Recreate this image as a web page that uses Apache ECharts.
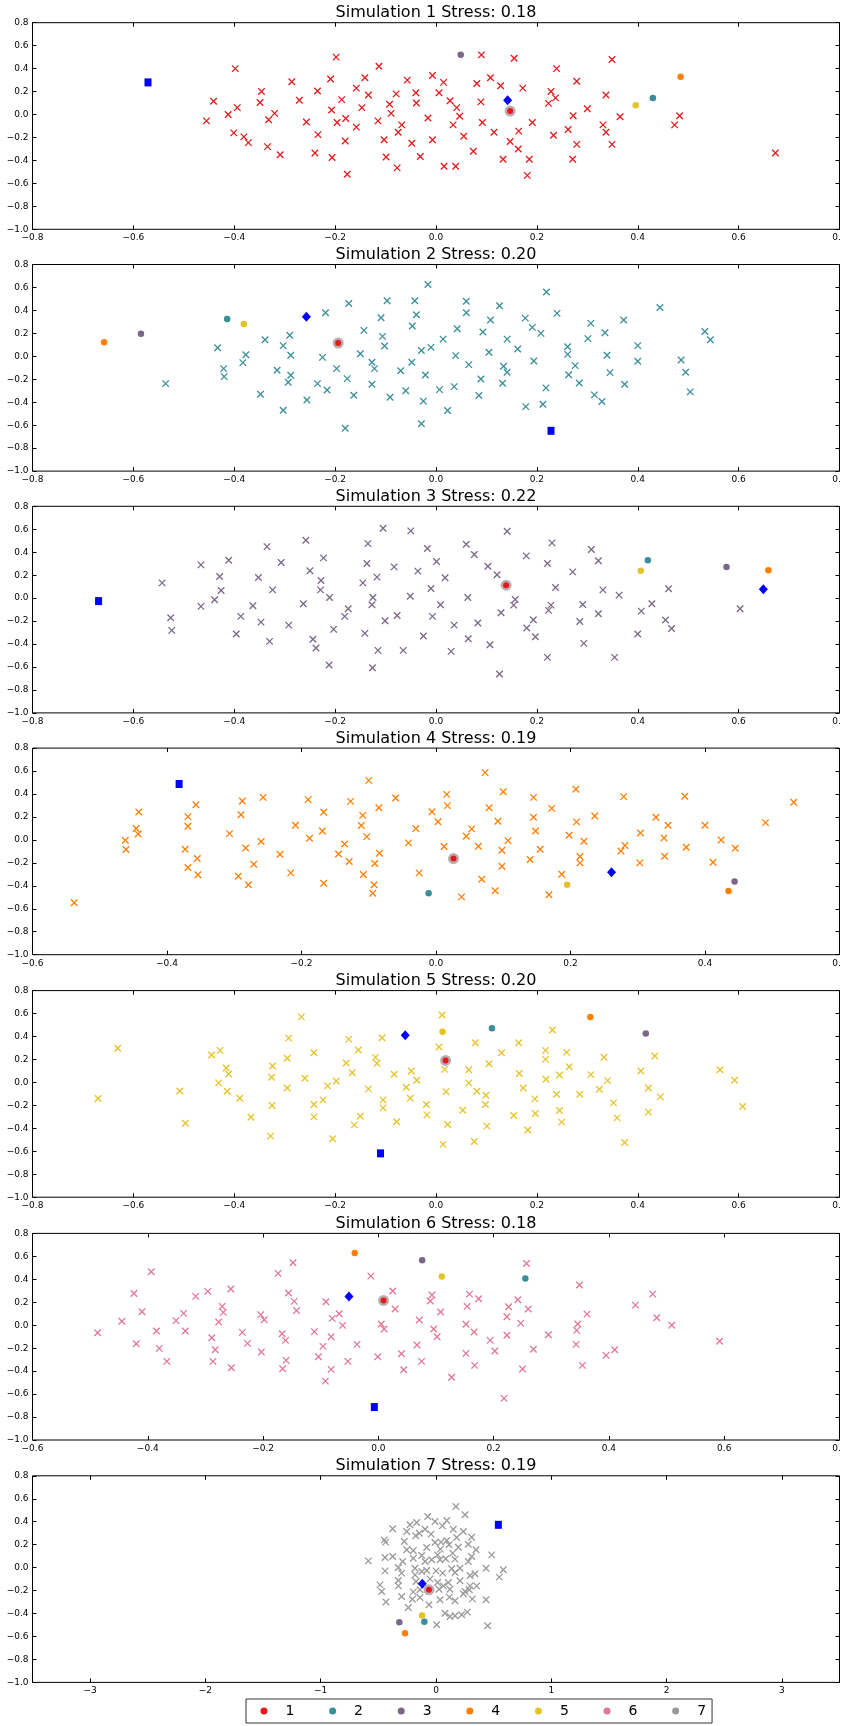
<!DOCTYPE html>
<html><head><meta charset="utf-8">
<script src="https://cdn.jsdelivr.net/npm/echarts@6/dist/echarts.min.js"></script>
<style>html,body{margin:0;padding:0;background:#fff}#c{width:841px;height:1726px}</style>
</head><body><div id="c"></div>
<script>
const simNames = ['1','2','3','4','5','6','7'];
const simColors = ['#e41a1c','#3a8e99','#7b6888','#ff7f00','#e6c229','#e07795','#999999'];
const stress = ['0.18','0.20','0.22','0.19','0.20','0.18','0.19'];
const xMins = [-0.8,-0.8,-0.8,-0.6,-0.8,-0.6,-3.5];
const xMaxs = [0.8,0.8,0.8,0.6,0.8,0.8,3.5];
const sim7XTicks = [-3,-2,-1,0,1,2,3];
const yMin = -1.0, yMax = 0.8, yStep = 0.2;

const sim1 = [[-0.198,0.50],[-0.113,0.42],[-0.398,0.40],[-0.286,0.285],[-0.209,0.31],[-0.141,0.32],[-0.057,0.30],[-0.007,0.34],[0.015,0.28],[0.081,0.27],[0.108,0.32],[0.128,0.25],[0.172,0.23],[0.090,0.52],[0.155,0.49],[0.239,0.40],[0.279,0.29],[0.349,0.48],[0.228,0.20],[0.237,0.145],[0.223,0.097],[0.337,0.17],[0.300,0.05],[0.272,-0.01],[0.365,-0.02],[0.483,-0.01],[0.473,-0.09],[0.331,-0.09],[0.337,-0.155],[0.262,-0.13],[0.233,-0.18],[0.279,-0.26],[0.349,-0.26],[0.271,-0.39],[0.673,-0.335],[0.191,-0.07],[0.164,-0.145],[0.147,-0.235],[0.163,-0.30],[0.185,-0.39],[0.181,-0.53],[0.133,-0.39],[0.115,-0.155],[0.092,-0.07],[0.089,0.11],[0.074,-0.32],[0.055,-0.19],[0.047,-0.015],[0.041,0.06],[0.028,0.12],[0.034,-0.09],[0.039,-0.45],[0.016,-0.45],[0.006,0.19],[-0.016,-0.03],[-0.007,-0.22],[-0.031,-0.365],[-0.048,-0.25],[-0.039,0.10],[-0.040,0.19],[-0.079,0.18],[-0.092,0.09],[-0.089,0.01],[-0.068,-0.09],[-0.075,-0.155],[-0.077,-0.465],[-0.099,-0.37],[-0.103,-0.22],[-0.115,-0.055],[-0.134,0.17],[-0.147,0.06],[-0.158,0.23],[-0.158,-0.11],[-0.187,0.13],[-0.179,-0.035],[-0.196,-0.07],[-0.207,0.04],[-0.180,-0.23],[-0.206,-0.375],[-0.176,-0.52],[-0.235,0.205],[-0.271,0.125],[-0.257,-0.065],[-0.234,-0.175],[-0.240,-0.335],[-0.309,-0.35],[-0.334,-0.28],[-0.320,0.01],[-0.332,-0.045],[-0.346,0.20],[-0.349,0.105],[-0.394,0.06],[-0.412,0.0],[-0.441,0.115],[-0.455,-0.055],[-0.401,-0.16],[-0.381,-0.195],[-0.372,-0.245]];

const sim2 = [[-0.016,0.626],[0.219,0.56],[0.444,0.426],[0.240,0.374],[0.126,0.44],[0.060,0.48],[0.060,0.38],[-0.042,0.484],[-0.039,0.362],[-0.097,0.484],[-0.109,0.336],[-0.173,0.46],[-0.219,0.38],[-0.047,0.264],[0.042,0.24],[0.108,0.316],[0.177,0.333],[0.191,0.252],[0.208,0.20],[0.093,0.212],[0.141,0.15],[0.014,0.15],[-0.010,0.078],[-0.029,0.05],[-0.102,0.09],[-0.106,0.174],[-0.143,0.226],[-0.150,0.023],[-0.127,-0.052],[-0.122,-0.107],[-0.048,-0.052],[-0.070,-0.125],[-0.021,-0.162],[-0.197,-0.107],[-0.176,-0.194],[-0.225,-0.009],[-0.235,-0.238],[-0.216,-0.293],[-0.163,-0.339],[-0.127,-0.243],[-0.091,-0.357],[-0.060,-0.30],[-0.025,-0.39],[0.007,-0.29],[0.036,-0.264],[0.023,-0.472],[-0.029,-0.588],[-0.180,-0.626],[0.085,-0.342],[0.089,-0.197],[0.132,-0.235],[0.134,-0.087],[0.141,-0.139],[0.065,-0.072],[0.039,0.006],[0.105,0.035],[0.162,0.064],[0.194,-0.041],[0.218,-0.275],[0.212,-0.417],[0.178,-0.438],[0.261,0.084],[0.261,0.017],[0.276,-0.081],[0.263,-0.16],[0.284,-0.232],[0.314,-0.336],[0.329,-0.394],[0.301,0.154],[0.307,0.287],[0.335,0.206],[0.339,0.009],[0.345,-0.142],[0.374,-0.243],[0.372,0.316],[0.400,0.093],[0.400,-0.043],[0.486,-0.032],[0.495,-0.139],[0.504,-0.31],[0.533,0.217],[0.544,0.145],[-0.288,0.009],[-0.290,0.183],[-0.303,0.093],[-0.288,-0.165],[-0.293,-0.226],[-0.315,-0.122],[-0.339,0.145],[-0.377,0.014],[-0.383,-0.055],[-0.433,0.075],[-0.421,-0.107],[-0.420,-0.177],[-0.348,-0.33],[-0.303,-0.47],[-0.256,-0.38],[-0.536,-0.238]];

const sim3 = [[-0.105,0.609],[-0.050,0.586],[0.141,0.583],[-0.258,0.504],[-0.335,0.449],[-0.135,0.475],[0.060,0.47],[0.230,0.481],[0.308,0.423],[-0.017,0.432],[0.076,0.38],[0.179,0.368],[0.322,0.325],[0.001,0.319],[-0.083,0.272],[-0.137,0.301],[-0.223,0.351],[-0.307,0.31],[-0.411,0.33],[-0.466,0.29],[-0.429,0.188],[-0.352,0.18],[-0.250,0.238],[-0.228,0.154],[-0.117,0.183],[-0.036,0.235],[0.018,0.177],[0.103,0.278],[0.121,0.203],[0.221,0.301],[0.271,0.229],[-0.543,0.133],[-0.426,0.067],[-0.439,-0.014],[-0.466,-0.072],[-0.324,0.072],[-0.229,0.072],[-0.145,0.133],[-0.211,0.006],[-0.263,-0.049],[-0.363,-0.067],[-0.387,-0.159],[-0.347,-0.209],[-0.292,-0.235],[-0.526,-0.171],[-0.524,-0.281],[-0.396,-0.313],[-0.330,-0.377],[-0.244,-0.359],[-0.238,-0.435],[-0.212,-0.583],[-0.126,-0.606],[-0.115,-0.455],[-0.141,-0.307],[-0.203,-0.272],[-0.181,-0.159],[-0.174,-0.093],[-0.127,-0.058],[-0.125,0.006],[-0.051,0.017],[-0.077,-0.151],[-0.101,-0.197],[-0.065,-0.455],[-0.025,-0.33],[-0.007,-0.159],[0.009,-0.058],[-0.010,0.084],[0.063,0.006],[0.036,-0.235],[0.030,-0.464],[0.064,-0.354],[0.083,-0.217],[0.107,-0.406],[0.129,-0.128],[0.126,-0.661],[0.157,-0.012],[0.154,-0.061],[0.180,-0.261],[0.193,-0.188],[0.197,-0.336],[0.221,-0.516],[0.223,-0.107],[0.228,-0.061],[0.237,0.093],[0.285,-0.203],[0.291,-0.055],[0.293,-0.394],[0.322,-0.136],[0.331,0.072],[0.363,0.026],[0.354,-0.516],[0.407,-0.113],[0.400,-0.313],[0.428,-0.049],[0.461,0.081],[0.455,-0.191],[0.467,-0.264],[0.603,-0.093]];

const sim4 = [[0.073,0.586],[-0.100,0.519],[0.208,0.441],[0.100,0.42],[0.016,0.397],[0.017,0.299],[-0.006,0.246],[0.003,0.159],[-0.030,0.099],[-0.060,0.365],[-0.085,0.281],[-0.109,0.214],[-0.111,0.125],[-0.103,0.029],[-0.127,0.336],[-0.167,0.241],[-0.169,0.078],[-0.190,0.351],[-0.209,0.128],[-0.188,0.014],[-0.257,0.371],[-0.288,0.339],[-0.290,0.22],[-0.307,0.055],[-0.260,-0.014],[-0.283,-0.07],[-0.232,-0.125],[-0.271,-0.212],[-0.216,-0.287],[-0.294,-0.316],[-0.279,-0.391],[-0.357,0.307],[-0.369,0.203],[-0.369,0.119],[-0.373,-0.081],[-0.355,-0.162],[-0.369,-0.241],[-0.354,-0.304],[-0.442,0.243],[-0.446,0.099],[-0.443,0.052],[-0.462,-0.003],[-0.461,-0.084],[-0.538,-0.548],[-0.136,-0.035],[-0.145,-0.122],[-0.129,-0.188],[-0.084,-0.116],[-0.091,-0.206],[-0.108,-0.301],[-0.167,-0.377],[-0.092,-0.391],[-0.094,-0.464],[-0.041,-0.026],[-0.025,-0.287],[0.012,-0.058],[0.045,0.032],[0.053,0.096],[0.063,-0.055],[0.079,0.281],[0.092,0.162],[0.107,-0.006],[0.098,-0.09],[0.098,-0.229],[0.068,-0.342],[0.088,-0.443],[0.038,-0.496],[0.145,0.371],[0.145,0.197],[0.148,0.078],[0.155,-0.081],[0.140,-0.171],[0.172,0.275],[0.198,0.041],[0.209,0.157],[0.220,-0.012],[0.214,-0.145],[0.214,-0.2],[0.187,-0.299],[0.168,-0.478],[0.236,0.209],[0.279,0.377],[0.281,-0.049],[0.275,-0.096],[0.304,0.061],[0.303,-0.2],[0.327,0.197],[0.345,0.128],[0.339,0.017],[0.340,-0.142],[0.370,0.38],[0.372,-0.064],[0.400,0.128],[0.412,-0.194],[0.424,0.0],[0.445,-0.072],[0.490,0.151],[0.532,0.328]];

const sim5 = [[0.012,0.588],[-0.267,0.571],[0.231,0.456],[-0.292,0.386],[-0.107,0.389],[-0.173,0.377],[0.006,0.308],[0.078,0.346],[0.164,0.346],[0.217,0.279],[0.259,0.262],[0.130,0.259],[-0.154,0.282],[-0.242,0.259],[-0.428,0.279],[-0.445,0.239],[-0.631,0.297],[-0.120,0.218],[-0.117,0.166],[-0.178,0.169],[-0.295,0.21],[-0.324,0.143],[-0.416,0.126],[-0.411,0.074],[-0.431,-0.004],[-0.414,-0.077],[-0.389,-0.138],[-0.326,0.045],[-0.260,0.036],[-0.295,-0.048],[-0.508,-0.074],[-0.670,-0.14],[-0.497,-0.355],[-0.367,-0.303],[-0.325,-0.201],[-0.328,-0.468],[-0.242,-0.193],[-0.242,-0.3],[-0.224,-0.152],[-0.215,-0.03],[-0.198,0.013],[-0.166,0.085],[-0.134,-0.056],[-0.205,-0.491],[-0.162,-0.37],[-0.150,-0.294],[-0.105,-0.152],[-0.105,-0.222],[-0.078,-0.343],[-0.083,0.071],[-0.049,0.1],[-0.059,-0.042],[-0.051,-0.138],[-0.038,0.019],[0.017,0.114],[0.020,-0.08],[-0.019,-0.193],[-0.018,-0.283],[0.023,-0.367],[0.014,-0.54],[0.053,-0.242],[0.065,0.111],[0.065,-0.004],[0.081,-0.077],[0.099,-0.112],[0.098,-0.193],[0.101,-0.381],[0.076,-0.514],[0.105,0.163],[0.165,0.077],[0.173,-0.048],[0.154,-0.288],[0.196,-0.143],[0.197,-0.271],[0.182,-0.415],[0.217,0.201],[0.218,0.027],[0.245,0.065],[0.264,0.137],[0.239,-0.103],[0.245,-0.245],[0.249,-0.346],[0.285,-0.103],[0.307,0.068],[0.324,-0.059],[0.340,0.016],[0.333,0.219],[0.352,-0.178],[0.359,-0.309],[0.374,-0.523],[0.406,0.1],[0.421,-0.048],[0.434,0.23],[0.445,-0.126],[0.421,-0.259],[0.563,0.111],[0.592,0.019],[0.608,-0.21]];

const sim6 = [[-0.148,0.545],[0.257,0.538],[-0.394,0.466],[-0.174,0.452],[-0.013,0.428],[0.349,0.35],[-0.256,0.315],[-0.296,0.295],[-0.317,0.251],[-0.424,0.277],[-0.156,0.28],[-0.146,0.208],[-0.142,0.129],[-0.091,0.205],[0.025,0.298],[0.029,0.141],[0.093,0.263],[0.090,0.211],[0.158,0.271],[0.174,0.231],[0.154,0.164],[0.242,0.222],[0.226,0.161],[0.260,0.141],[0.223,0.074],[0.247,0.016],[0.108,0.115],[0.071,0.045],[0.476,0.271],[0.446,0.175],[0.483,0.065],[0.509,0.0],[0.362,0.097],[0.346,0.01],[0.344,-0.045],[0.343,-0.167],[0.354,-0.35],[0.410,-0.213],[0.395,-0.263],[0.592,-0.14],[0.295,-0.083],[0.269,-0.21],[0.250,-0.382],[0.194,-0.132],[0.202,-0.225],[0.223,-0.088],[0.218,-0.637],[0.152,0.008],[0.166,-0.059],[0.152,-0.245],[0.167,-0.35],[0.127,-0.454],[0.096,-0.033],[0.102,-0.1],[0.067,-0.173],[0.075,-0.315],[0.040,-0.248],[0.044,-0.388],[-0.001,-0.274],[0.010,-0.033],[0.005,0.01],[-0.037,-0.167],[-0.053,-0.315],[-0.062,-0.001],[-0.068,0.1],[-0.080,0.06],[-0.082,-0.1],[-0.096,-0.184],[-0.104,-0.274],[-0.082,-0.385],[-0.092,-0.487],[-0.111,-0.056],[-0.167,-0.074],[-0.161,-0.132],[-0.160,-0.306],[-0.166,-0.379],[-0.203,-0.234],[-0.227,-0.158],[-0.236,-0.062],[-0.204,0.092],[-0.198,0.048],[-0.255,-0.37],[-0.287,-0.315],[-0.283,-0.213],[-0.289,-0.109],[-0.277,0.028],[-0.269,0.112],[-0.271,0.164],[-0.338,0.103],[-0.335,-0.051],[-0.351,0.04],[-0.367,-0.315],[-0.380,-0.202],[-0.385,-0.051],[-0.410,0.118],[-0.445,0.034],[-0.420,-0.161],[-0.487,-0.065]];

const sim7 = [[0.173,0.533],[0.252,0.46],[-0.072,0.445],[-0.009,0.402],[0.093,0.411],[0.055,0.364],[-0.226,0.373],[-0.168,0.393],[-0.376,0.338],[-0.254,0.315],[-0.095,0.335],[0.150,0.335],[0.237,0.315],[-0.145,0.300],[-0.043,0.292],[-0.176,0.277],[-0.448,0.242],[-0.437,0.222],[-0.275,0.228],[-0.009,0.219],[0.043,0.222],[0.093,0.236],[0.179,0.262],[0.309,0.265],[0.113,0.199],[0.280,0.204],[-0.081,0.175],[0.038,0.161],[0.194,0.178],[-0.254,0.155],[-0.197,0.149],[0.347,0.155],[0.145,0.126],[0.483,0.111],[-0.442,0.088],[-0.376,0.097],[-0.124,0.106],[0.014,0.111],[0.309,0.097],[-0.587,0.059],[-0.289,0.053],[-0.197,0.082],[-0.095,0.053],[-0.038,0.068],[0.035,0.068],[0.084,0.077],[0.165,0.074],[0.280,0.053],[-0.327,0.001],[-0.182,-0.005],[-0.442,-0.028],[-0.298,-0.048],[-0.124,-0.034],[-0.081,-0.025],[0.0,-0.028],[0.058,-0.048],[0.136,-0.010],[0.208,-0.005],[0.434,-0.005],[0.584,-0.019],[0.549,-0.083],[-0.182,-0.063],[-0.052,-0.098],[0.165,-0.042],[0.295,-0.069],[0.338,-0.054],[-0.327,-0.112],[-0.486,-0.150],[-0.327,-0.159],[-0.173,-0.121],[0.014,-0.130],[0.064,-0.159],[0.107,-0.130],[0.208,-0.115],[0.295,-0.159],[0.353,-0.159],[-0.471,-0.208],[-0.197,-0.211],[-0.139,-0.193],[0.026,-0.188],[0.121,-0.188],[0.252,-0.208],[0.289,-0.193],[-0.298,-0.251],[-0.205,-0.275],[-0.139,-0.260],[0.035,-0.280],[0.116,-0.257],[0.165,-0.289],[0.237,-0.228],[0.315,-0.272],[0.434,-0.280],[-0.434,-0.300],[-0.240,-0.347],[-0.061,-0.324],[0.078,-0.397],[0.121,-0.426],[0.165,-0.420],[0.223,-0.411],[0.272,-0.388],[0.006,-0.498],[0.448,-0.507]];

const simPoints = [sim1, sim2, sim3, sim4, sim5, sim6, sim7];

// special markers per panel
const squarePts = [[-0.571,0.28],[0.228,-0.649],[-0.669,-0.026],[-0.382,0.487],[-0.110,-0.618],[-0.007,-0.713],[0.541,0.373]];
const diamondPts = [[0.142,0.125],[-0.257,0.345],[0.649,0.078],[0.261,-0.281],[-0.061,0.412],[-0.051,0.251],[-0.119,-0.141]];
const haloPts = [[0.147,0.03],[-0.194,0.116],[0.139,0.113],[0.026,-0.162],[0.019,0.192],[0.009,0.216],[-0.061,-0.193]];
const dot2 = [[0.430,0.145],[-0.414,0.325],[0.420,0.33],[-0.011,-0.464],[0.111,0.473],[0.255,0.408],[-0.101,-0.472]];
const dot3 = [[0.049,0.52],[-0.585,0.197],[0.576,0.272],[0.444,-0.362],[0.416,0.427],[0.076,0.567],[-0.318,-0.475]];
const dot4 = [[0.485,0.33],[-0.658,0.122],[0.659,0.243],[0.435,-0.446],[0.306,0.569],[-0.041,0.629],[-0.269,-0.571]];
const dot5 = [[0.396,0.08],[-0.381,0.281],[0.406,0.238],[0.195,-0.391],[0.013,0.441],[0.110,0.425],[-0.121,-0.417]];

const FONT = 'DejaVu Sans';
const tops = [22.7, 264.5, 506.3, 748.1, 990.6, 1233.4, 1475.8];
const GH = 206.6, GL = 32.5, GW = 807;

function fmt1(v){ if (Math.abs(v) < 1e-9) return '0.0'; const s = Math.abs(v).toFixed(1); return v < 0 ? '\u2212' + s : s; }
function fmtInt(v){ return v < 0 ? '\u2212' + Math.abs(v) : String(v); }

const grids = [], xAxes = [], yAxes = [], series = [], titles = [];
const X_SYM = 'path://M0,0L10,10M10,0L0,10';

for (let i = 0; i < 7; i++) {
  grids.push({left: GL, top: tops[i], width: GW, height: GH, show: true, borderColor: '#000', borderWidth: 1,
    backgroundColor: 'transparent', containLabel: false, outerBoundsMode: 'none'});
  const isLast = i === 6;
  const baseX = {
    type: 'value', gridIndex: i, min: xMins[i], max: xMaxs[i],
    axisLine: {show: false, onZero: false}, splitLine: {show: false},
    axisTick: {show: true, inside: true, length: 4, lineStyle: {color: '#000', width: 1}}
  };
  if (isLast) {
    baseX.interval = 0.5;
    baseX.axisTick = Object.assign({}, baseX.axisTick, {customValues: sim7XTicks});
  } else {
    baseX.interval = 0.2;
  }
  xAxes.push(Object.assign({}, baseX, {
    position: 'bottom',
    axisLabel: Object.assign({show: true, fontFamily: FONT, fontSize: 9, color: '#000', margin: 4,
      showMinLabel: true, showMaxLabel: true, hideOverlap: false,
      formatter: isLast ? fmtInt : fmt1}, isLast ? {customValues: sim7XTicks} : {})
  }));
  xAxes.push(Object.assign({}, baseX, {position: 'top', axisLabel: {show: false}}));
  const baseY = {
    type: 'value', gridIndex: i, min: yMin, max: yMax, interval: yStep,
    axisLine: {show: false, onZero: false}, splitLine: {show: false},
    axisTick: {show: true, inside: true, length: 4, lineStyle: {color: '#000', width: 1}}
  };
  yAxes.push(Object.assign({}, baseY, {position: 'left',
    axisLabel: {show: true, fontFamily: FONT, fontSize: 9, color: '#000', margin: 4, showMinLabel: true, showMaxLabel: true, formatter: fmt1}}));
  yAxes.push(Object.assign({}, baseY, {position: 'right', axisLabel: {show: false}}));

  titles.push({text: 'Simulation ' + simNames[i] + ' Stress: ' + stress[i], left: GL + GW / 2, top: tops[i] - 9.6,
    textAlign: 'center', textVerticalAlign: 'middle', padding: 0,
    textStyle: {fontFamily: FONT, fontSize: 16, fontWeight: 'normal', color: '#000'}});

  const xi = 2 * i, yi = 2 * i;
  series.push({type: 'scatter', name: simNames[i], xAxisIndex: xi, yAxisIndex: yi, data: simPoints[i],
    symbol: X_SYM, symbolSize: 6.5, z: 2,
    itemStyle: {color: 'transparent', borderColor: simColors[i], borderWidth: 1.3, opacity: 1},
    silent: true});
  const dotSets = [[dot2, 1], [dot3, 2], [dot4, 3], [dot5, 4]];
  dotSets.forEach(([arr, ci]) => {
    series.push({type: 'scatter', name: 'dot' + ci + '_' + i, xAxisIndex: xi, yAxisIndex: yi, data: [arr[i]],
      symbol: 'circle', symbolSize: 6.5, z: 3, itemStyle: {color: simColors[ci], opacity: 1}, silent: true});
  });
  series.push({type: 'scatter', name: 'halo_' + i, xAxisIndex: xi, yAxisIndex: yi, data: [haloPts[i]],
    symbol: 'circle', symbolSize: 11, z: 4, itemStyle: {color: 'rgba(130,105,112,0.55)', opacity: 1}, silent: true});
  series.push({type: 'scatter', name: 'haloc_' + i, xAxisIndex: xi, yAxisIndex: yi, data: [haloPts[i]],
    symbol: 'circle', symbolSize: 6, z: 5, itemStyle: {color: simColors[0], opacity: 1}, silent: true});
  series.push({type: 'scatter', name: 'sq_' + i, xAxisIndex: xi, yAxisIndex: yi, data: [squarePts[i]],
    symbol: 'rect', symbolSize: [7, 8], z: 4, itemStyle: {color: '#0000ff', opacity: 1}, silent: true});
  series.push({type: 'scatter', name: 'dm_' + i, xAxisIndex: xi, yAxisIndex: yi, data: [diamondPts[i]],
    symbol: 'diamond', symbolSize: [9, 10], z: 4, itemStyle: {color: '#0000ff', opacity: 1}, silent: true});
}

const chart = echarts.init(document.getElementById('c'), null, {renderer: 'canvas'});
chart.setOption({
  animation: false,
  backgroundColor: '#fff',
  title: titles,
  grid: grids,
  xAxis: xAxes,
  yAxis: yAxes,
  legend: {
    data: simNames.map((n, i) => ({name: n, icon: 'circle', itemStyle: {color: simColors[i], borderWidth: 0, opacity: 1}})),
    left: 246, top: 1699, orient: 'horizontal',
    itemWidth: 7, itemHeight: 7, itemGap: 34.7,
    padding: [5, 6, 5, 14.5], borderColor: '#333', borderWidth: 1, selectedMode: false,
    textStyle: {fontFamily: FONT, fontSize: 14, color: '#000', padding: [0, 0, 0, 13]}
  },
  series: series
});
</script></body></html>
